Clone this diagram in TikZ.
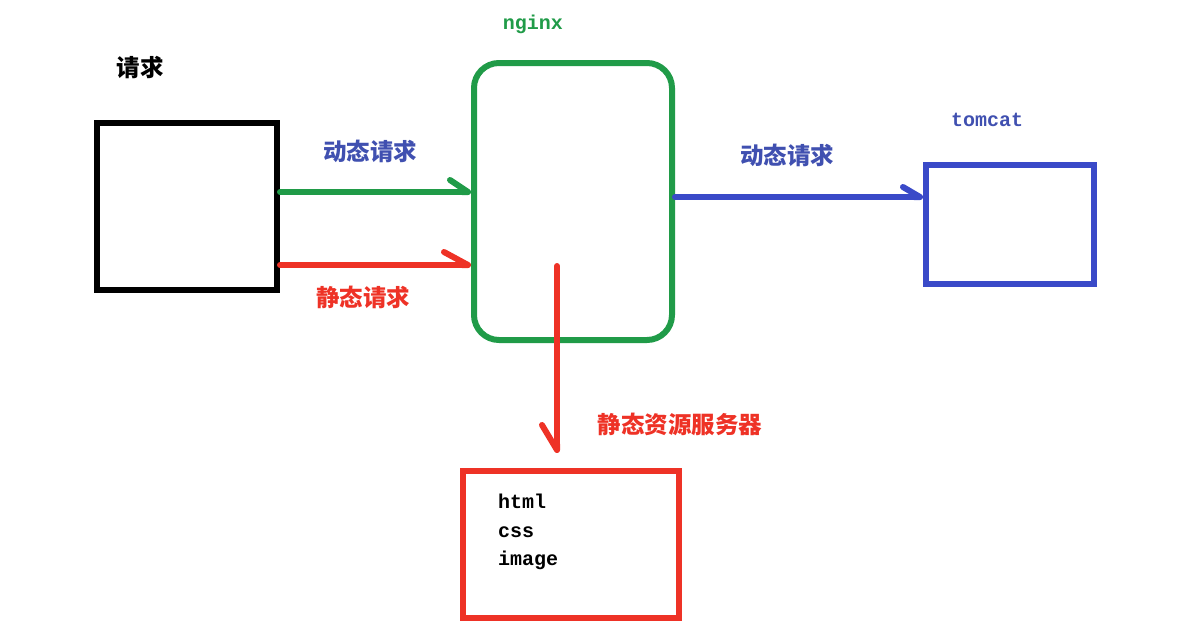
\documentclass[tikz,border=0pt]{standalone}
\usepackage{fontspec}
\setmonofont{Liberation Mono}
\newfontfamily\cjk{Noto Sans CJK SC}
\usepackage{tikz}
\usetikzlibrary{arrows.meta}
\definecolor{ngxgreen}{RGB}{32,155,72}
\definecolor{reqred}{RGB}{238,50,38}
\definecolor{tcblue}{RGB}{58,74,200}
\definecolor{txtblue}{RGB}{64,80,176}
\tikzstyle{box} = [rectangle, draw, line width=6pt, inner sep=0pt]
\tikzstyle{cjklabel} = [font=\cjk\bfseries\fontsize{23.5}{28}\selectfont, inner sep=0pt]
\tikzstyle{monolabel} = [font=\ttfamily\bfseries\fontsize{20}{24}\selectfont, inner sep=0pt]
\tikzstyle{wire} = [line width=6pt, line cap=round]
\begin{document}
\begin{tikzpicture}[x=1pt, y=-1pt]
  \useasboundingbox (0,0) rectangle (1187,638);

  \node(client)[box, draw=black, minimum width=180pt, minimum height=167pt] at (187,206.5) {};
  \node(nginx)[box, draw=ngxgreen, rounded corners=25pt, minimum width=198pt, minimum height=277pt] at (573,201.5) {};
  \node(tomcat)[box, draw=tcblue, minimum width=168pt, minimum height=119pt] at (1010,224.5) {};
  \node(static)[box, draw=reqred, minimum width=216pt, minimum height=147pt] at (571,544.5) {};

  \node(clientlbl)[cjklabel] at (140,68) {请求};
  \node(nginxlbl)[monolabel, text=ngxgreen] at (533,24) {nginx};
  \node(tomcatlbl)[monolabel, text=txtblue] at (987,120) {tomcat};
  \node(dynlbl)[cjklabel, text=txtblue] at (370,151) {动态请求};
  \node(statlbl)[cjklabel, text=reqred] at (363,297) {静态请求};
  \node(fwdlbl)[cjklabel, text=txtblue] at (787,155) {动态请求};
  \node(srvlbl)[cjklabel, text=reqred] at (680,424) {静态资源服务器};

  \node(filehtml)[monolabel, anchor=base west] at (498,508) {html};
  \node(filecss)[monolabel, anchor=base west] at (498,537) {css};
  \node(fileimage)[monolabel, anchor=base west] at (498,565) {image};

  \coordinate (dynstart) at ([yshift=14.5pt]client.east);
  \coordinate (statstart) at ([yshift=-58.5pt]client.east);
  \coordinate (fwdstart) at ([yshift=4.5pt]nginx.east);
  \coordinate (srvstart) at (557,266);

  \draw[wire, ngxgreen, -{Straight Barb[harpoon, round, length=18pt, width=24pt]}] (dynstart) -- (dynstart -| nginx.west);
  \draw[wire, reqred, -{Straight Barb[harpoon, round, length=24pt, width=26pt]}] (statstart) -- (statstart -| nginx.west);
  \draw[wire, tcblue, -{Straight Barb[harpoon, round, length=17pt, width=20pt]}] (fwdstart) -- (fwdstart -| tomcat.west);
  \draw[wire, reqred, shorten >=15pt, -{Straight Barb[harpoon, swap, round, length=25pt, width=30pt]}] (srvstart) -- (srvstart |- static.north);

\end{tikzpicture}
\end{document}
